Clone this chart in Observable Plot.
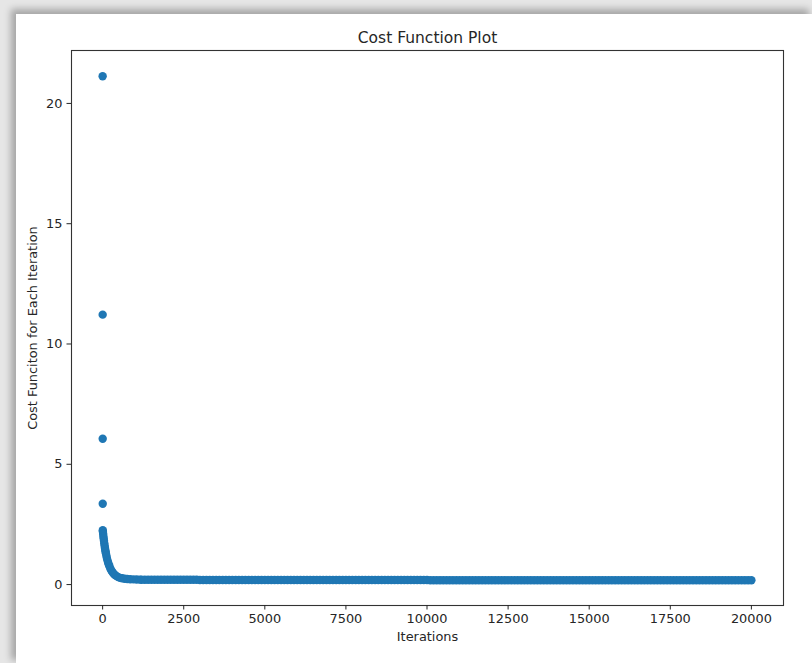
<!DOCTYPE html>
<html>
<head>
<meta charset="utf-8">
<script src="https://cdn.jsdelivr.net/npm/d3@7"></script>
<script src="https://cdn.jsdelivr.net/npm/@observablehq/plot@0.6"></script>
<style>
  html, body { margin: 0; padding: 0; }
  #page { position: relative; width: 812px; height: 663px; background: #e6e6e6; overflow: hidden; }
  #card { position: absolute; left: 16px; top: 14px; right: 0; bottom: 0; background: #fff;
          box-shadow: -4px -4px 7px 1px rgba(0, 0, 0, 0.28); }
  #chart { position: absolute; left: 0; top: 0; }
</style>
</head>
<body>
<div id="page">
  <div id="card"></div>
  <div id="chart"></div>
</div>
<script>
// Text
const title = "Cost Function Plot";
const xLabel = "Iterations";
const yLabel = "Cost Funciton for Each Iteration";

// Tick values
const xTicks = [0, 2500, 5000, 7500, 10000, 12500, 15000, 17500, 20000];
const yTicks = [0, 5, 10, 15, 20];

// Early iterations: the fast drop of the cost
const headIter = [0, 1, 2, 3, 4, 8, 16, 24, 32, 40, 50, 60, 70, 80, 90, 100, 115, 130, 150, 170, 190, 210,
                  240, 270, 300, 340, 380, 430, 480, 540, 600, 680, 760, 850, 950, 1050, 1150];
const headCost = [21.13, 11.22, 6.06, 3.36, 2.26, 2.20, 2.10, 2.00, 1.91, 1.82, 1.72, 1.62, 1.53, 1.45, 1.37, 1.30,
                  1.20, 1.10, 1.00, 0.91, 0.83, 0.76, 0.66, 0.58, 0.52, 0.45, 0.40, 0.35, 0.31, 0.28, 0.26,
                  0.24, 0.23, 0.22, 0.215, 0.21, 0.205];

// Remaining iterations, sampled every 100 from 1200 to 20000
const tailIter = d3.range(1200, 20001, 100);
const tailCost = [
  // 1200 – 2900
  0.20, 0.20, 0.20, 0.20, 0.20, 0.20, 0.20, 0.20, 0.20, 0.20,
  0.20, 0.20, 0.20, 0.20, 0.20, 0.20, 0.20, 0.20,
  // 3000 – 10000
  0.19, 0.19, 0.19, 0.19, 0.19, 0.19, 0.19, 0.19, 0.19, 0.19,
  0.19, 0.19, 0.19, 0.19, 0.19, 0.19, 0.19, 0.19, 0.19, 0.19,
  0.19, 0.19, 0.19, 0.19, 0.19, 0.19, 0.19, 0.19, 0.19, 0.19,
  0.19, 0.19, 0.19, 0.19, 0.19, 0.19, 0.19, 0.19, 0.19, 0.19,
  0.19, 0.19, 0.19, 0.19, 0.19, 0.19, 0.19, 0.19, 0.19, 0.19,
  0.19, 0.19, 0.19, 0.19, 0.19, 0.19, 0.19, 0.19, 0.19, 0.19,
  0.19, 0.19, 0.19, 0.19, 0.19, 0.19, 0.19, 0.19, 0.19, 0.19,
  0.19,
  // 10100 – 20000
  0.18, 0.18, 0.18, 0.18, 0.18, 0.18, 0.18, 0.18, 0.18, 0.18,
  0.18, 0.18, 0.18, 0.18, 0.18, 0.18, 0.18, 0.18, 0.18, 0.18,
  0.18, 0.18, 0.18, 0.18, 0.18, 0.18, 0.18, 0.18, 0.18, 0.18,
  0.18, 0.18, 0.18, 0.18, 0.18, 0.18, 0.18, 0.18, 0.18, 0.18,
  0.18, 0.18, 0.18, 0.18, 0.18, 0.18, 0.18, 0.18, 0.18, 0.18,
  0.18, 0.18, 0.18, 0.18, 0.18, 0.18, 0.18, 0.18, 0.18, 0.18,
  0.18, 0.18, 0.18, 0.18, 0.18, 0.18, 0.18, 0.18, 0.18, 0.18,
  0.18, 0.18, 0.18, 0.18, 0.18, 0.18, 0.18, 0.18, 0.18, 0.18,
  0.18, 0.18, 0.18, 0.18, 0.18, 0.18, 0.18, 0.18, 0.18, 0.18,
  0.18, 0.18, 0.18, 0.18, 0.18, 0.18, 0.18, 0.18, 0.18, 0.18
];

const points = [
  ...headIter.map((it, i) => ({iter: it, cost: headCost[i]})),
  ...tailIter.map((it, i) => ({iter: it, cost: tailCost[i]})).filter(d => d.cost !== undefined)
];

const blue = "#1f77b4";
const ink = "#262626";
const font = "DejaVu Sans, Liberation Sans, sans-serif";

const chart = Plot.plot({
  width: 812,
  height: 663,
  marginLeft: 71,
  marginRight: 29,
  marginTop: 50,
  marginBottom: 58,
  style: {background: "transparent", fontFamily: font, fontSize: "12.9px", color: ink, overflow: "visible"},
  x: {domain: [-960, 20990]},
  y: {domain: [-0.87, 22.2]},
  marks: [
    Plot.dot(points, {x: "iter", y: "cost", r: 4.2, fill: blue, stroke: "none"}),
    Plot.frame({stroke: "#333", strokeWidth: 1.1}),
    Plot.axisX(xTicks, {tickSize: 4.5, tickPadding: 3.5, tickFormat: d => String(d), label: null,
                        fontSize: 12.9, color: ink}),
    Plot.axisY(yTicks, {tickSize: 4.5, tickPadding: 4.5, tickFormat: d => String(d), label: null,
                        fontSize: 12.9, color: ink}),
    Plot.text([title], {text: d => d, frameAnchor: "top", lineAnchor: "top", dy: -19,
                        fontSize: 15.5, fill: ink}),
    Plot.text([xLabel], {text: d => d, frameAnchor: "bottom", lineAnchor: "top", dy: 26,
                         fontSize: 12.9, fill: ink}),
    Plot.text([yLabel], {text: d => d, frameAnchor: "left", textAnchor: "middle", lineAnchor: "middle",
                         rotate: -90, dx: -39, fontSize: 12.9, fill: ink})
  ]
});

document.getElementById("chart").appendChild(chart);
</script>
</body>
</html>
